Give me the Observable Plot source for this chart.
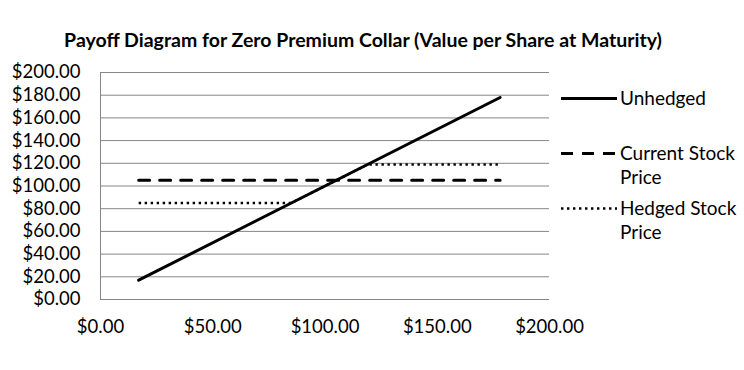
<!DOCTYPE html>
<html>
<head>
<meta charset="utf-8">
<script src="https://cdn.jsdelivr.net/npm/d3@7"></script>
<script src="https://cdn.jsdelivr.net/npm/@observablehq/plot@0.6"></script>
<style>
  body { margin: 0; background: #fff; }
  #wrap { position: relative; width: 744px; height: 370px; font-family: Lato, "Open Sans", sans-serif; color: #000; }
  #title { position: absolute; left: 0; top: 28px; width: 726px; text-align: center; font-weight: bold; font-size: 19.5px; }
  #legend { position: absolute; left: 560px; top: 86px; font-size: 19px; }
  .item { position: absolute; left: 0; white-space: nowrap; }
  .item svg { position: absolute; left: 0; }
  .item span { position: absolute; left: 60px; line-height: 24px; }
</style>
</head>
<body>
<div id="wrap">
  <div id="chart"></div>
  <div id="title"></div>
  <div id="legend"></div>
</div>
<script>
const titleText = "Payoff Diagram for Zero Premium Collar (Value per Share at Maturity)";
const seriesNames = ["Unhedged", "Current Stock Price", "Hedged Stock Price"];
const unhedgedX = [17, 178];
const unhedgedY = [17, 178];
const currentX = [17, 178];
const currentY = [105, 105];
const hedgedX = [17, 85, 119, 178];
const hedgedY = [85, 85, 119, 119];
const xTicks = [0, 50, 100, 150, 200];
const yTicks = [0, 20, 40, 60, 80, 100, 120, 140, 160, 180, 200];

const styles = [
  {dash: null, width: 3},
  {dash: "11,10", width: 3},
  {dash: "2.4,3.6", width: 2.4}
];

const toRows = (xs, ys) => xs.map((x, i) => ({x, y: ys[i]}));
const unhedged = toRows(unhedgedX, unhedgedY);
const current = toRows(currentX, currentY);
const hedged = toRows(hedgedX, hedgedY);
const fmt = d => "$" + d.toFixed(2);

const chart = Plot.plot({
  width: 744,
  height: 370,
  marginLeft: 100,
  marginRight: 195,
  marginTop: 72,
  marginBottom: 71,
  style: {fontFamily: "Lato, 'Open Sans', sans-serif", fontSize: "18.5px", color: "#000", background: "#fff"},
  x: {domain: [0, 200], label: null},
  y: {domain: [0, 200], label: null},
  marks: [
    Plot.ruleY(yTicks, {stroke: "#868686", strokeWidth: 1}),
    Plot.ruleX([0], {stroke: "#868686", strokeWidth: 1}),
    Plot.axisX({ticks: xTicks, tickFormat: fmt, tickSize: 0, tickPadding: 20, label: null, fontSize: 18.5}),
    Plot.axisY({ticks: yTicks, tickFormat: fmt, tickSize: 0, tickPadding: 20, label: null, fontSize: 18.5}),
    Plot.line(hedged, {x: "x", y: "y", stroke: "#000", strokeWidth: styles[2].width, strokeDasharray: styles[2].dash, strokeLinecap: "butt"}),
    Plot.line(current, {x: "x", y: "y", stroke: "#000", strokeWidth: styles[1].width, strokeDasharray: styles[1].dash}),
    Plot.line(unhedged, {x: "x", y: "y", stroke: "#000", strokeWidth: styles[0].width})
  ]
});
document.getElementById("chart").appendChild(chart);
document.getElementById("title").textContent = titleText;

const legendTops = [0, 55, 110];
const legendLabels = [["Unhedged"], ["Current Stock", "Price"], ["Hedged Stock", "Price"]];
const legend = document.getElementById("legend");
seriesNames.forEach((name, i) => {
  const item = document.createElement("div");
  item.className = "item";
  item.style.top = legendTops[i] + "px";
  const s = styles[i];
  item.innerHTML = `<svg width="58" height="24"><line x1="1" x2="57" y1="12.5" y2="12.5" stroke="#000" stroke-width="${s.width}" ${s.dash ? `stroke-dasharray="${i === 1 ? '12,9' : s.dash}"` : ""}/></svg>` +
    `<span>${legendLabels[i].join("<br>")}</span>`;
  legend.appendChild(item);
});
</script>
</body>
</html>
